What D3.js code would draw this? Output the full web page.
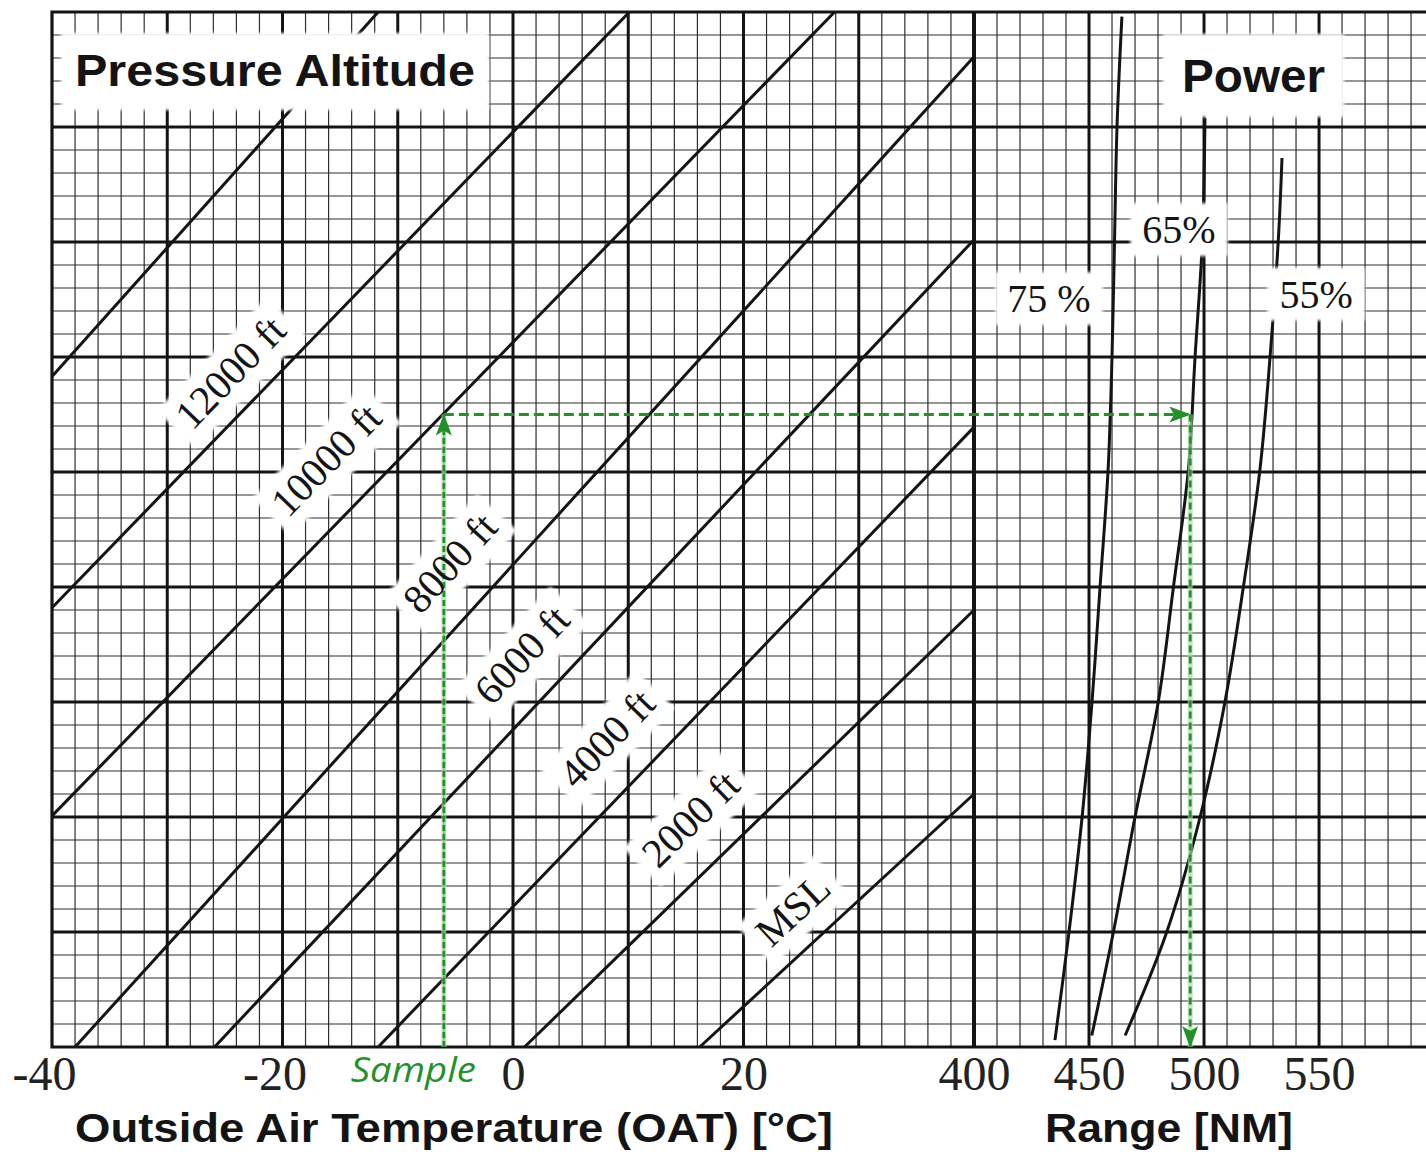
<!DOCTYPE html>
<html lang="en">
<head>
<meta charset="utf-8">
<title>Range chart</title>
<script src="https://cdn.jsdelivr.net/npm/d3@7/dist/d3.min.js"></script>
<style>
  body { margin: 0; background: #fff; }
  svg { display: block; }
</style>
</head>
<body>
<svg id="chart" width="1426" height="1158"></svg>
<script>
// tick labels
var oatTicks = [-40, -20, 0, 20];
var rangeTicks = [400, 450, 500, 550];

// pressure altitude lines, end points as [OAT, chart level]
var altNames = ['', '12000 ft', '10000 ft', '8000 ft', '6000 ft', '4000 ft', '2000 ft', 'MSL'];
var altLines = [
  [[-40, 5.83], [-11.7, 9]],
  [[-40, 3.82], [10.1, 9]],
  [[-40, 2.01], [27.9, 9]],
  [[-38.0, 0], [40, 8.61]],
  [[-25.9, 0], [40, 7.02]],
  [[-11.7, 0], [40, 5.39]],
  [[1.0, 0], [40, 3.80]],
  [[16.2, 0], [40, 2.20]]
];

// power curves, points as [range NM, chart level]
var powerNames = ['75 %', '65%', '55%'];
var power75 = [[464.3, 8.96], [462.2, 8.02], [461.1, 7.02], [460.0, 6.0], [458.3, 5.02], [454.8, 4.0], [451.3, 3.0], [447.0, 2.0], [441.3, 1.0], [435.2, 0.06]];
var power65 = [[500.4, 8.08], [499.3, 7.02], [496.1, 6.0], [493.2, 5.02], [486.7, 4.0], [480.1, 3.0], [470.0, 2.0], [460.6, 1.0], [451.2, 0.1]];
var power55 = [[533.9, 7.73], [532.3, 7.02], [528.7, 6.0], [524.3, 5.02], [517.1, 4.0], [509.1, 3.0], [498.3, 2.0], [483.8, 1.0], [465.7, 0.1]];

// worked example
var sampleOat = -6;
var sampleLevel = 5.5;
var sampleRange = 494;

// label placement (layout only)
var altLabelAt = [null, -22.3, -13.0, -2.4, 3.6, 11.2, 18.3, 26.5];
var altLabelOff = [0, 22, 38, 34, 31, 35, 34, 24];
var powerLabelAt = [[432.6, 6.39], [489.1, 6.99], [548.7, 6.43]];

var W = 1426;
var svg = d3.select('#chart');
var x = d3.scaleLinear().domain([-40, 40]).range([52, 974]);
var xr = d3.scaleLinear().domain([400, 596.5]).range([974, W]);
var y = d3.scaleLinear().domain([0, 9]).range([1047, 12]);

var ink = '#141414';
var green = '#23902a';
var serif = "'Liberation Serif', 'DejaVu Serif', serif";
var sans = "'Liberation Sans', Arial, sans-serif";

var defs = svg.append('defs');
defs.append('filter').attr('id', 'soft')
    .attr('x', '-10%').attr('y', '-20%').attr('width', '120%').attr('height', '140%')
    .append('feGaussianBlur').attr('stdDeviation', 1.6);
defs.append('marker')
    .attr('id', 'arrow')
    .attr('viewBox', '0 0 22 16')
    .attr('refX', 21).attr('refY', 8)
    .attr('markerWidth', 22).attr('markerHeight', 16)
    .attr('markerUnits', 'userSpaceOnUse')
    .attr('orient', 'auto')
    .append('path')
    .attr('d', 'M0,0 L22,8 L0,16 L5,8 Z')
    .attr('fill', green);

var gGrid = svg.append('g');
var gBoxes = svg.append('g');
var gLines = svg.append('g');
var gCurves = svg.append('g');
var gSample = svg.append('g');
var gTopBoxes = svg.append('g');
var gText = svg.append('g');

// ---- grid ----
var minorX = d3.range(-40, 40.01, 2).map(x).concat(d3.range(410, 596, 10).map(xr));
var minorY = d3.range(0, 9.001, 0.2).map(y);
var majorX = d3.range(-30, 31, 10).map(x).concat([450, 500, 550].map(xr));
var majorY = d3.range(1, 9, 1).map(y);

gGrid.selectAll('.vminor').data(minorX).enter().append('line')
    .attr('x1', d => d).attr('x2', d => d)
    .attr('y1', y(9)).attr('y2', y(0))
    .attr('stroke', '#2e2e2e').attr('stroke-width', 1.2);
gGrid.selectAll('.hminor').data(minorY).enter().append('line')
    .attr('x1', x(-40)).attr('x2', W)
    .attr('y1', d => d).attr('y2', d => d)
    .attr('stroke', '#2e2e2e').attr('stroke-width', 1.2);
gGrid.selectAll('.vmajor').data(majorX).enter().append('line')
    .attr('x1', d => d).attr('x2', d => d)
    .attr('y1', y(9)).attr('y2', y(0))
    .attr('stroke', ink).attr('stroke-width', 3);
gGrid.selectAll('.hmajor').data(majorY).enter().append('line')
    .attr('x1', x(-40)).attr('x2', W)
    .attr('y1', d => d).attr('y2', d => d)
    .attr('stroke', ink).attr('stroke-width', 3);
// frame and the panel divider
gGrid.append('path')
    .attr('d', 'M' + W + ',' + y(9) + 'H' + x(-40) + 'V' + y(0) + 'H' + W)
    .attr('fill', 'none').attr('stroke', ink).attr('stroke-width', 3.2);
gGrid.append('line')
    .attr('x1', x(40)).attr('x2', x(40)).attr('y1', y(9)).attr('y2', y(0))
    .attr('stroke', ink).attr('stroke-width', 4);

// ---- pressure altitude lines ----
gLines.selectAll('.alt').data(altLines).enter().append('line')
    .attr('x1', d => x(d[0][0])).attr('y1', d => y(d[0][1]))
    .attr('x2', d => x(d[1][0])).attr('y2', d => y(d[1][1]))
    .attr('stroke', ink).attr('stroke-width', 3);

altLines.forEach(function(d, i) {
    if (!altNames[i]) return;
    var p0 = [x(d[0][0]), y(d[0][1])], p1 = [x(d[1][0]), y(d[1][1])];
    var a = Math.atan2(p1[1] - p0[1], p1[0] - p0[0]);
    var t = (altLabelAt[i] - d[0][0]) / (d[1][0] - d[0][0]);
    var fx = x(altLabelAt[i]);
    var fy = y(d[0][1] + t * (d[1][1] - d[0][1]));
    var px = fx + altLabelOff[i] * Math.sin(a);
    var py = fy - altLabelOff[i] * Math.cos(a);
    var tr = 'translate(' + px + ',' + py + ') rotate(' + (a * 180 / Math.PI) + ')';
    var txt = gText.append('text')
        .attr('transform', tr)
        .attr('text-anchor', 'middle')
        .style('font-family', serif).style('font-size', '41px')
        .attr('fill', ink)
        .text(altNames[i]);
    var bb = txt.node().getBBox();
    gBoxes.append('rect')
        .attr('transform', tr)
        .attr('x', bb.x - 10).attr('y', bb.y - 3)
        .attr('width', bb.width + 20).attr('height', bb.height + 8)
        .attr('fill', '#fff').attr('filter', 'url(#soft)');
});

// ---- power curves ----
var curve = d3.line().x(d => xr(d[0])).y(d => y(d[1])).curve(d3.curveCatmullRom.alpha(0.5));
gCurves.selectAll('.power').data([power75, power65, power55]).enter().append('path')
    .attr('d', curve)
    .attr('fill', 'none').attr('stroke', ink).attr('stroke-width', 3);

// ---- sample path ----
var sx = x(sampleOat), sy = y(sampleLevel), rx = xr(sampleRange);
function greenLine(x1, y1, x2, y2, dash, halo) {
    if (halo) {
        gSample.append('line')
            .attr('x1', x1).attr('y1', y1).attr('x2', x2).attr('y2', y2)
            .attr('stroke', '#a8dca8').attr('stroke-width', 5).attr('opacity', 0.7);
    }
    gSample.append('line')
        .attr('x1', x1).attr('y1', y1).attr('x2', x2).attr('y2', y2)
        .attr('stroke', green).attr('stroke-width', 2.8)
        .attr('stroke-dasharray', dash)
        .attr('marker-end', 'url(#arrow)');
}
greenLine(sx, y(0), sx, sy, '6,3', true);
greenLine(sx, sy, rx, sy, '10,5', false);
greenLine(rx, sy, rx, y(0), '7,4', true);

// ---- boxed titles and power labels ----
function boxedText(txt, padX, padTop, padBottom) {
    var bb = txt.node().getBBox();
    gTopBoxes.append('rect')
        .attr('x', bb.x - padX).attr('y', bb.y - padTop)
        .attr('width', bb.width + 2 * padX).attr('height', bb.height + padTop + padBottom)
        .attr('fill', '#fff').attr('filter', 'url(#soft)');
}

var paTitle = gText.append('text')
    .attr('x', 75).attr('y', 86)
    .style('font-family', sans).style('font-weight', 'bold').style('font-size', '45px')
    .attr('textLength', 400).attr('lengthAdjust', 'spacingAndGlyphs')
    .attr('fill', ink)
    .text('Pressure Altitude');
boxedText(paTitle, 14, 12, 14);

var powTitle = gText.append('text')
    .attr('x', 1182).attr('y', 92)
    .style('font-family', sans).style('font-weight', 'bold').style('font-size', '46px')
    .attr('textLength', 143).attr('lengthAdjust', 'spacingAndGlyphs')
    .attr('fill', ink)
    .text('Power');
boxedText(powTitle, 19, 16, 15);

powerNames.forEach(function(name, i) {
    var t = gText.append('text')
        .attr('x', xr(powerLabelAt[i][0])).attr('y', y(powerLabelAt[i][1]))
        .attr('text-anchor', 'middle')
        .style('font-family', serif).style('font-size', '40px')
        .attr('fill', ink)
        .text(name);
    boxedText(t, 12, 4, 4);
});

// ---- axes ----
var axL = d3.axisBottom(x).tickValues(oatTicks).tickSize(0).tickPadding(9)
    .tickFormat(d => String(d));
var axR = d3.axisBottom(xr).tickValues(rangeTicks).tickSize(0).tickPadding(9)
    .tickFormat(d => String(d));
[axL, axR].forEach(function(ax) {
    var g = gText.append('g').attr('transform', 'translate(0,' + y(0) + ')').call(ax);
    g.select('.domain').remove();
    g.selectAll('text')
        .style('font-family', serif).style('font-size', '48px')
        .attr('fill', '#222')
        .attr('dx', d => d < 0 ? -8 : 0);
});

gText.append('text')
    .attr('x', sx + 32).attr('y', 1082)
    .attr('text-anchor', 'end')
    .style('font-family', "'Open Sans', 'Noto Sans', sans-serif").style('font-style', 'italic')
    .style('font-size', '34px')
    .attr('textLength', 125).attr('lengthAdjust', 'spacingAndGlyphs')
    .attr('fill', green)
    .text('Sample');

gText.append('text')
    .attr('x', 75).attr('y', 1142)
    .style('font-family', sans).style('font-weight', 'bold').style('font-size', '40px')
    .attr('textLength', 758).attr('lengthAdjust', 'spacingAndGlyphs')
    .attr('fill', ink)
    .text('Outside Air Temperature (OAT) [°C]');

gText.append('text')
    .attr('x', 1045).attr('y', 1142)
    .style('font-family', sans).style('font-weight', 'bold').style('font-size', '40px')
    .attr('textLength', 248).attr('lengthAdjust', 'spacingAndGlyphs')
    .attr('fill', ink)
    .text('Range [NM]');
</script>
</body>
</html>
